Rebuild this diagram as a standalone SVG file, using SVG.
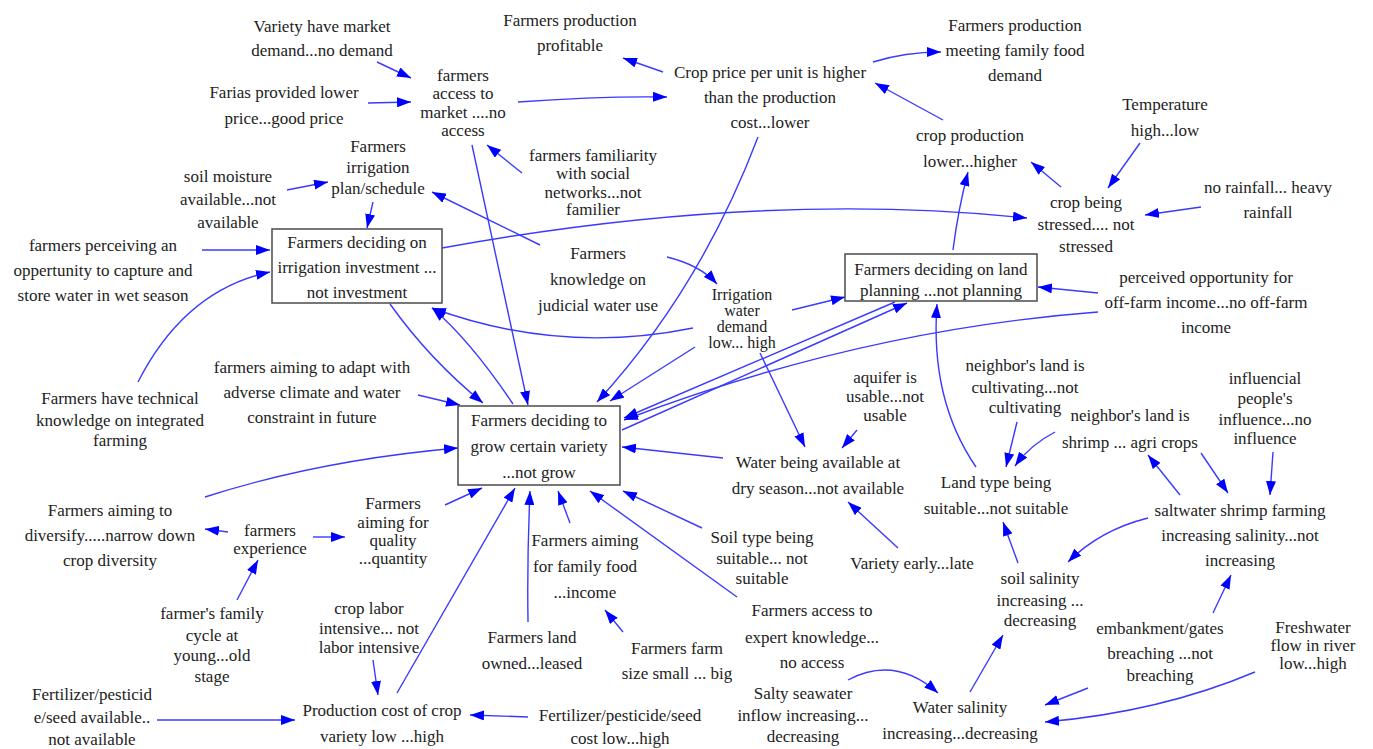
<svg xmlns="http://www.w3.org/2000/svg" width="1373" height="749" viewBox="0 0 1373 749">
<defs>
<style>
.t{font-size:17px;fill:#222;text-anchor:middle}
.s{font-size:16px}
.c{fill:none;stroke:#3a3aff;stroke-width:1.4;marker-end:url(#ah)}
.b{fill:#fff;stroke:#555;stroke-width:1.6}
</style>
<marker id="ah" viewBox="0 0 14 10" refX="14" refY="5" markerWidth="14" markerHeight="10" markerUnits="userSpaceOnUse" orient="auto">
<path d="M0,0 L14,5 L0,10 z" fill="#0000ff"/>
</marker>
</defs>
<rect width="1373" height="749" fill="#fff"/>
<g id="connectors">
<path class="c" d="M377,62 L411,78"/>
<path class="c" d="M368,103 L411,102"/>
<path class="c" d="M518,102 Q600,96 667,97"/>
<path class="c" d="M663,72 L623,58"/>
<path class="c" d="M873,62 Q905,52 941,52"/>
<path class="c" d="M943,120 L875,83"/>
<path class="c" d="M1140,143 L1108,188"/>
<path class="c" d="M1061,187 L1031,162"/>
<path class="c" d="M1201,207 L1145,215"/>
<path class="c" d="M953,250 Q958,210 968,172"/>
<path class="c" d="M442,248 Q760,190 1027,218"/>
<path class="c" d="M287,190 L328,182"/>
<path class="c" d="M373,202 L367,228"/>
<path class="c" d="M522,173 L487,145"/>
<path class="c" d="M540,245 L432,192"/>
<path class="c" d="M472,145 L528,405"/>
<path class="c" d="M202,250 L270,250"/>
<path class="c" d="M138,382 Q185,290 270,272"/>
<path class="c" d="M390,304 Q430,360 483,403"/>
<path class="c" d="M513,404 Q470,340 432,308"/>
<path class="c" d="M693,328 Q560,355 432,308"/>
<path class="c" d="M758,137 Q700,290 597,402"/>
<path class="c" d="M695,347 L610,401"/>
<path class="c" d="M760,353 L805,447"/>
<path class="c" d="M857,430 L842,448"/>
<path class="c" d="M723,458 L622,447"/>
<path class="c" d="M792,310 L845,297"/>
<path class="c" d="M667,257 Q700,265 717,284"/>
<path class="c" d="M895,302 L624,418"/>
<path class="c" d="M622,430 L907,303"/>
<path class="c" d="M1098,312 Q860,330 624,420"/>
<path class="c" d="M1098,293 L1038,287"/>
<path class="c" d="M976,467 Q930,400 937,304"/>
<path class="c" d="M1017,422 L1006,467"/>
<path class="c" d="M1055,432 Q1030,445 1015,466"/>
<path class="c" d="M1180,495 L1148,455"/>
<path class="c" d="M1201,453 L1228,493"/>
<path class="c" d="M1273,452 L1270,495"/>
<path class="c" d="M1148,518 Q1100,530 1068,562"/>
<path class="c" d="M1018,563 L1003,522"/>
<path class="c" d="M970,692 L1003,635"/>
<path class="c" d="M848,680 Q895,655 938,693"/>
<path class="c" d="M1088,688 L1045,705"/>
<path class="c" d="M1255,672 Q1160,712 1045,722"/>
<path class="c" d="M1213,613 L1231,575"/>
<path class="c" d="M898,548 L848,502"/>
<path class="c" d="M418,395 L460,405"/>
<path class="c" d="M205,497 Q320,460 458,448"/>
<path class="c" d="M228,532 L205,529"/>
<path class="c" d="M313,537 L345,537"/>
<path class="c" d="M237,600 L258,560"/>
<path class="c" d="M445,505 L482,488"/>
<path class="c" d="M397,693 L515,488"/>
<path class="c" d="M528,622 Q527,560 530,491"/>
<path class="c" d="M570,523 L558,491"/>
<path class="c" d="M737,597 L590,491"/>
<path class="c" d="M702,528 L623,491"/>
<path class="c" d="M623,632 L605,610"/>
<path class="c" d="M373,660 L378,695"/>
<path class="c" d="M157,720 L295,720"/>
<path class="c" d="M528,717 L470,715"/>
</g>
<g id="nodes" font-family="Liberation Serif, serif">
<g id="n1"><text class="t"><tspan x="322" y="32">Variety have market</tspan><tspan x="322" y="56">demand...no demand</tspan></text></g>
<g id="n2"><text class="t"><tspan x="284" y="98">Farias provided lower</tspan><tspan x="284" y="124">price...good price</tspan></text></g>
<g id="n3"><text class="t"><tspan x="463" y="81">farmers</tspan><tspan x="463" y="99">access to</tspan><tspan x="463" y="118">market ....no</tspan><tspan x="463" y="136">access</tspan></text></g>
<g id="n4"><text class="t"><tspan x="570" y="26">Farmers production</tspan><tspan x="570" y="51">profitable</tspan></text></g>
<g id="n5"><text class="t"><tspan x="770" y="78">Crop price per unit is higher</tspan><tspan x="770" y="103">than the production</tspan><tspan x="770" y="128">cost...lower</tspan></text></g>
<g id="n6"><text class="t"><tspan x="1015" y="31">Farmers production</tspan><tspan x="1015" y="56">meeting family food</tspan><tspan x="1015" y="81">demand</tspan></text></g>
<g id="n7"><text class="t"><tspan x="1165" y="110">Temperature</tspan><tspan x="1165" y="136">high...low</tspan></text></g>
<g id="n8"><text class="t"><tspan x="970" y="141">crop production</tspan><tspan x="970" y="167">lower...higher</tspan></text></g>
<g id="n9"><text class="t"><tspan x="1086" y="208">crop being</tspan><tspan x="1086" y="230">stressed.... not</tspan><tspan x="1086" y="252">stressed</tspan></text></g>
<g id="n10"><text class="t"><tspan x="1268" y="193">no rainfall... heavy</tspan><tspan x="1268" y="218">rainfall</tspan></text></g>
<g id="n11"><text class="t"><tspan x="378" y="152">Farmers</tspan><tspan x="378" y="173">irrigation</tspan><tspan x="378" y="194">plan/schedule</tspan></text></g>
<g id="n12"><text class="t"><tspan x="228" y="182">soil moisture</tspan><tspan x="228" y="205">available...not</tspan><tspan x="228" y="228">available</tspan></text></g>
<g id="n13"><text class="t"><tspan x="593" y="161">farmers familiarity</tspan><tspan x="593" y="179">with social</tspan><tspan x="593" y="198">networks...not</tspan><tspan x="593" y="215">familier</tspan></text></g>
<g id="n14"><rect class="b" x="272" y="229" width="170" height="74"/><text class="t"><tspan x="357" y="248">Farmers deciding on</tspan><tspan x="357" y="273">irrigation investment ...</tspan><tspan x="357" y="298">not investment</tspan></text></g>
<g id="n15"><text class="t"><tspan x="103" y="251">farmers perceiving an</tspan><tspan x="103" y="276">oppertunity to capture and</tspan><tspan x="103" y="301">store water in wet season</tspan></text></g>
<g id="n16"><text class="t"><tspan x="598" y="259">Farmers</tspan><tspan x="598" y="285">knowledge on</tspan><tspan x="598" y="311">judicial water use</tspan></text></g>
<g id="n17"><text class="t s"><tspan x="742" y="300">Irrigation</tspan><tspan x="742" y="316">water</tspan><tspan x="742" y="332">demand</tspan><tspan x="742" y="348">low... high</tspan></text></g>
<g id="n18"><rect class="b" x="845" y="254" width="192" height="47"/><text class="t"><tspan x="941" y="275">Farmers deciding on land</tspan><tspan x="941" y="296">planning ...not planning</tspan></text></g>
<g id="n19"><text class="t"><tspan x="1206" y="283">perceived opportunity for</tspan><tspan x="1206" y="308">off-farm income...no off-farm</tspan><tspan x="1206" y="333">income</tspan></text></g>
<g id="n20"><text class="t"><tspan x="120" y="404">Farmers have technical</tspan><tspan x="120" y="426">knowledge on integrated</tspan><tspan x="120" y="446">farming</tspan></text></g>
<g id="n21"><text class="t"><tspan x="312" y="373">farmers aiming to adapt with</tspan><tspan x="312" y="398">adverse climate and water</tspan><tspan x="312" y="423">constraint in future</tspan></text></g>
<g id="n22"><rect class="b" x="458" y="406" width="162" height="79"/><text class="t"><tspan x="539" y="426">Farmers deciding to</tspan><tspan x="539" y="452">grow certain variety</tspan><tspan x="539" y="478">...not grow</tspan></text></g>
<g id="n23"><text class="t"><tspan x="885" y="383">aquifer is</tspan><tspan x="885" y="402">usable...not</tspan><tspan x="885" y="421">usable</tspan></text></g>
<g id="n24"><text class="t"><tspan x="818" y="468">Water being available at</tspan><tspan x="818" y="494">dry season...not available</tspan></text></g>
<g id="n25"><text class="t"><tspan x="1025" y="371">neighbor's land is</tspan><tspan x="1025" y="393">cultivating...not</tspan><tspan x="1025" y="413">cultivating</tspan></text></g>
<g id="n26"><text class="t"><tspan x="1130" y="421">neighbor's land is</tspan><tspan x="1130" y="448">shrimp ... agri crops</tspan></text></g>
<g id="n27"><text class="t"><tspan x="1265" y="384">influencial</tspan><tspan x="1265" y="404">people's</tspan><tspan x="1265" y="425">influence...no</tspan><tspan x="1265" y="444">influence</tspan></text></g>
<g id="n28"><text class="t"><tspan x="996" y="488">Land type being</tspan><tspan x="996" y="514">suitable...not suitable</tspan></text></g>
<g id="n29"><text class="t"><tspan x="1240" y="516">saltwater shrimp farming</tspan><tspan x="1240" y="541">increasing salinity...not</tspan><tspan x="1240" y="566">increasing</tspan></text></g>
<g id="n30"><text class="t"><tspan x="110" y="516">Farmers aiming to</tspan><tspan x="110" y="541">diversify.....narrow down</tspan><tspan x="110" y="566">crop diversity</tspan></text></g>
<g id="n31"><text class="t"><tspan x="270" y="536">farmers</tspan><tspan x="270" y="554">experience</tspan></text></g>
<g id="n32"><text class="t"><tspan x="393" y="509">Farmers</tspan><tspan x="393" y="528">aiming for</tspan><tspan x="393" y="546">quality</tspan><tspan x="393" y="564">...quantity</tspan></text></g>
<g id="n33"><text class="t"><tspan x="212" y="619">farmer's family</tspan><tspan x="212" y="641">cycle at</tspan><tspan x="212" y="661">young...old</tspan><tspan x="212" y="682">stage</tspan></text></g>
<g id="n34"><text class="t"><tspan x="369" y="614">crop labor</tspan><tspan x="369" y="634">intensive... not</tspan><tspan x="369" y="653">labor intensive</tspan></text></g>
<g id="n35"><text class="t"><tspan x="92" y="700">Fertilizer/pesticid</tspan><tspan x="92" y="723">e/seed available..</tspan><tspan x="92" y="745">not available</tspan></text></g>
<g id="n36"><text class="t"><tspan x="382" y="716">Production cost of crop</tspan><tspan x="382" y="742">variety low ...high</tspan></text></g>
<g id="n37"><text class="t"><tspan x="585" y="546">Farmers aiming</tspan><tspan x="585" y="572">for family food</tspan><tspan x="585" y="598">...income</tspan></text></g>
<g id="n38"><text class="t"><tspan x="532" y="643">Farmers land</tspan><tspan x="532" y="669">owned...leased</tspan></text></g>
<g id="n39"><text class="t"><tspan x="677" y="654">Farmers farm</tspan><tspan x="677" y="679">size small ... big</tspan></text></g>
<g id="n40"><text class="t"><tspan x="762" y="543">Soil type being</tspan><tspan x="762" y="564">suitable... not</tspan><tspan x="762" y="584">suitable</tspan></text></g>
<g id="n41"><text class="t"><tspan x="912" y="569">Variety early...late</tspan></text></g>
<g id="n42"><text class="t"><tspan x="812" y="616">Farmers access to</tspan><tspan x="812" y="643">expert knowledge...</tspan><tspan x="812" y="668">no access</tspan></text></g>
<g id="n43"><text class="t"><tspan x="620" y="721">Fertilizer/pesticide/seed</tspan><tspan x="620" y="744">cost low...high</tspan></text></g>
<g id="n44"><text class="t"><tspan x="803" y="699">Salty seawater</tspan><tspan x="803" y="721">inflow increasing...</tspan><tspan x="803" y="742">decreasing</tspan></text></g>
<g id="n45"><text class="t"><tspan x="960" y="713">Water salinity</tspan><tspan x="960" y="739">increasing...decreasing</tspan></text></g>
<g id="n46"><text class="t"><tspan x="1040" y="584">soil salinity</tspan><tspan x="1040" y="606">increasing ...</tspan><tspan x="1040" y="626">decreasing</tspan></text></g>
<g id="n47"><text class="t"><tspan x="1160" y="634">embankment/gates</tspan><tspan x="1160" y="659">breaching ...not</tspan><tspan x="1160" y="681">breaching</tspan></text></g>
<g id="n48"><text class="t"><tspan x="1313" y="633">Freshwater</tspan><tspan x="1313" y="651">flow in river</tspan><tspan x="1313" y="669">low...high</tspan></text></g>
</g>
</svg>
